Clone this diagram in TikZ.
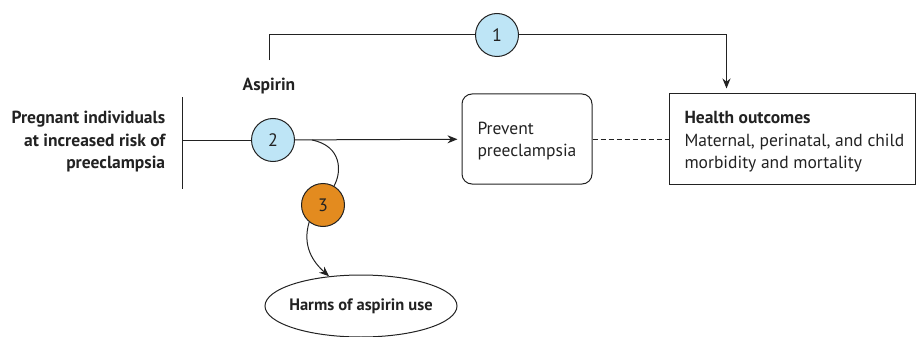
\documentclass[tikz,border=0pt]{standalone}
\usepackage{fontspec}
\setmainfont{PT Sans}
\usetikzlibrary{shapes.geometric, arrows.meta}
\definecolor{kqblue}{HTML}{BEE5F6}
\definecolor{kqorange}{HTML}{E38B1F}
\definecolor{ink}{HTML}{222222}
\tikzset{
  every question/.style={circle, draw=ink, line width=1pt, minimum size=43pt, inner sep=0pt, font=\fontsize{18}{18}\selectfont},
  outcome/.style={draw=ink, line width=1pt, minimum height=90pt, align=left, font=\fontsize{17.5}{22.5}\selectfont},
  boxtext/.style={anchor=west, inner sep=0pt, align=left, font=\fontsize{17.5}{22.5}\selectfont, text=ink},
  boldtext/.style={font=\fontsize{17.5}{22.5}\selectfont\bfseries, text=ink}
}
\begin{document}
\begin{tikzpicture}[x=1pt, y=-1pt, >={Stealth[length=10pt, width=8pt]}, line width=1pt, draw=ink, text=ink]
  \useasboundingbox (0,0) rectangle (916,337);

  % population and key questions
  \node [boldtext, align=right, anchor=east] (population) at (169,142) {Pregnant individuals\\at increased risk of\\preeclampsia};
  \coordinate (bar-top) at (182,97);
  \coordinate (bar-bottom) at (182,189);
  \coordinate (bar) at (182,140);

  \foreach \n/\pos/\col in {1/{497,35}/kqblue, 2/{273,140}/kqblue, 3/{323,205}/kqorange}
    \node [every question, fill=\col] (question-\n) at (\pos) {\n};

  \node [boldtext] (aspirin) at (269,86) {Aspirin};
  \node [outcome, rounded corners=10pt, minimum width=130pt] (prevent) at (527,139) {};
  \node [boxtext] (prevent-text) at (477,141) {Prevent\\preeclampsia};
  \node [outcome, minimum width=246pt] (health) at (792,139) {};
  \node [boxtext] (health-text) at (684,142) {\textbf{Health outcomes}\\Maternal, perinatal, and child\\morbidity and mortality};
  \node [ellipse, draw=ink, line width=1pt, minimum width=192pt, minimum height=62pt, inner xsep=-9pt, inner ysep=0pt, font=\fontsize{16.5}{20}\selectfont\bfseries] (harms) at (361,306) {Harms of aspirin use};

  % connectors
  \draw (bar-top) -- (bar-bottom);
  \draw (bar) -- (question-2);
  \draw [->, shorten >=4pt] (question-2) -- (prevent);
  \draw [dash pattern=on 5pt off 3pt] (prevent) -- (health);
  \draw (aspirin.north) ++(0,-14) |- (question-1);
  \draw [->, shorten >=5pt] (question-1) -| ([xshift=58pt]health.north west);

  \coordinate (branch) at (312,140);
  \draw (branch) .. controls (342,146) and (342,172) .. (question-3.60);
  \draw [->] (question-3.231) .. controls (302,246) and (313,262) .. (harms.137);
\end{tikzpicture}
\end{document}
